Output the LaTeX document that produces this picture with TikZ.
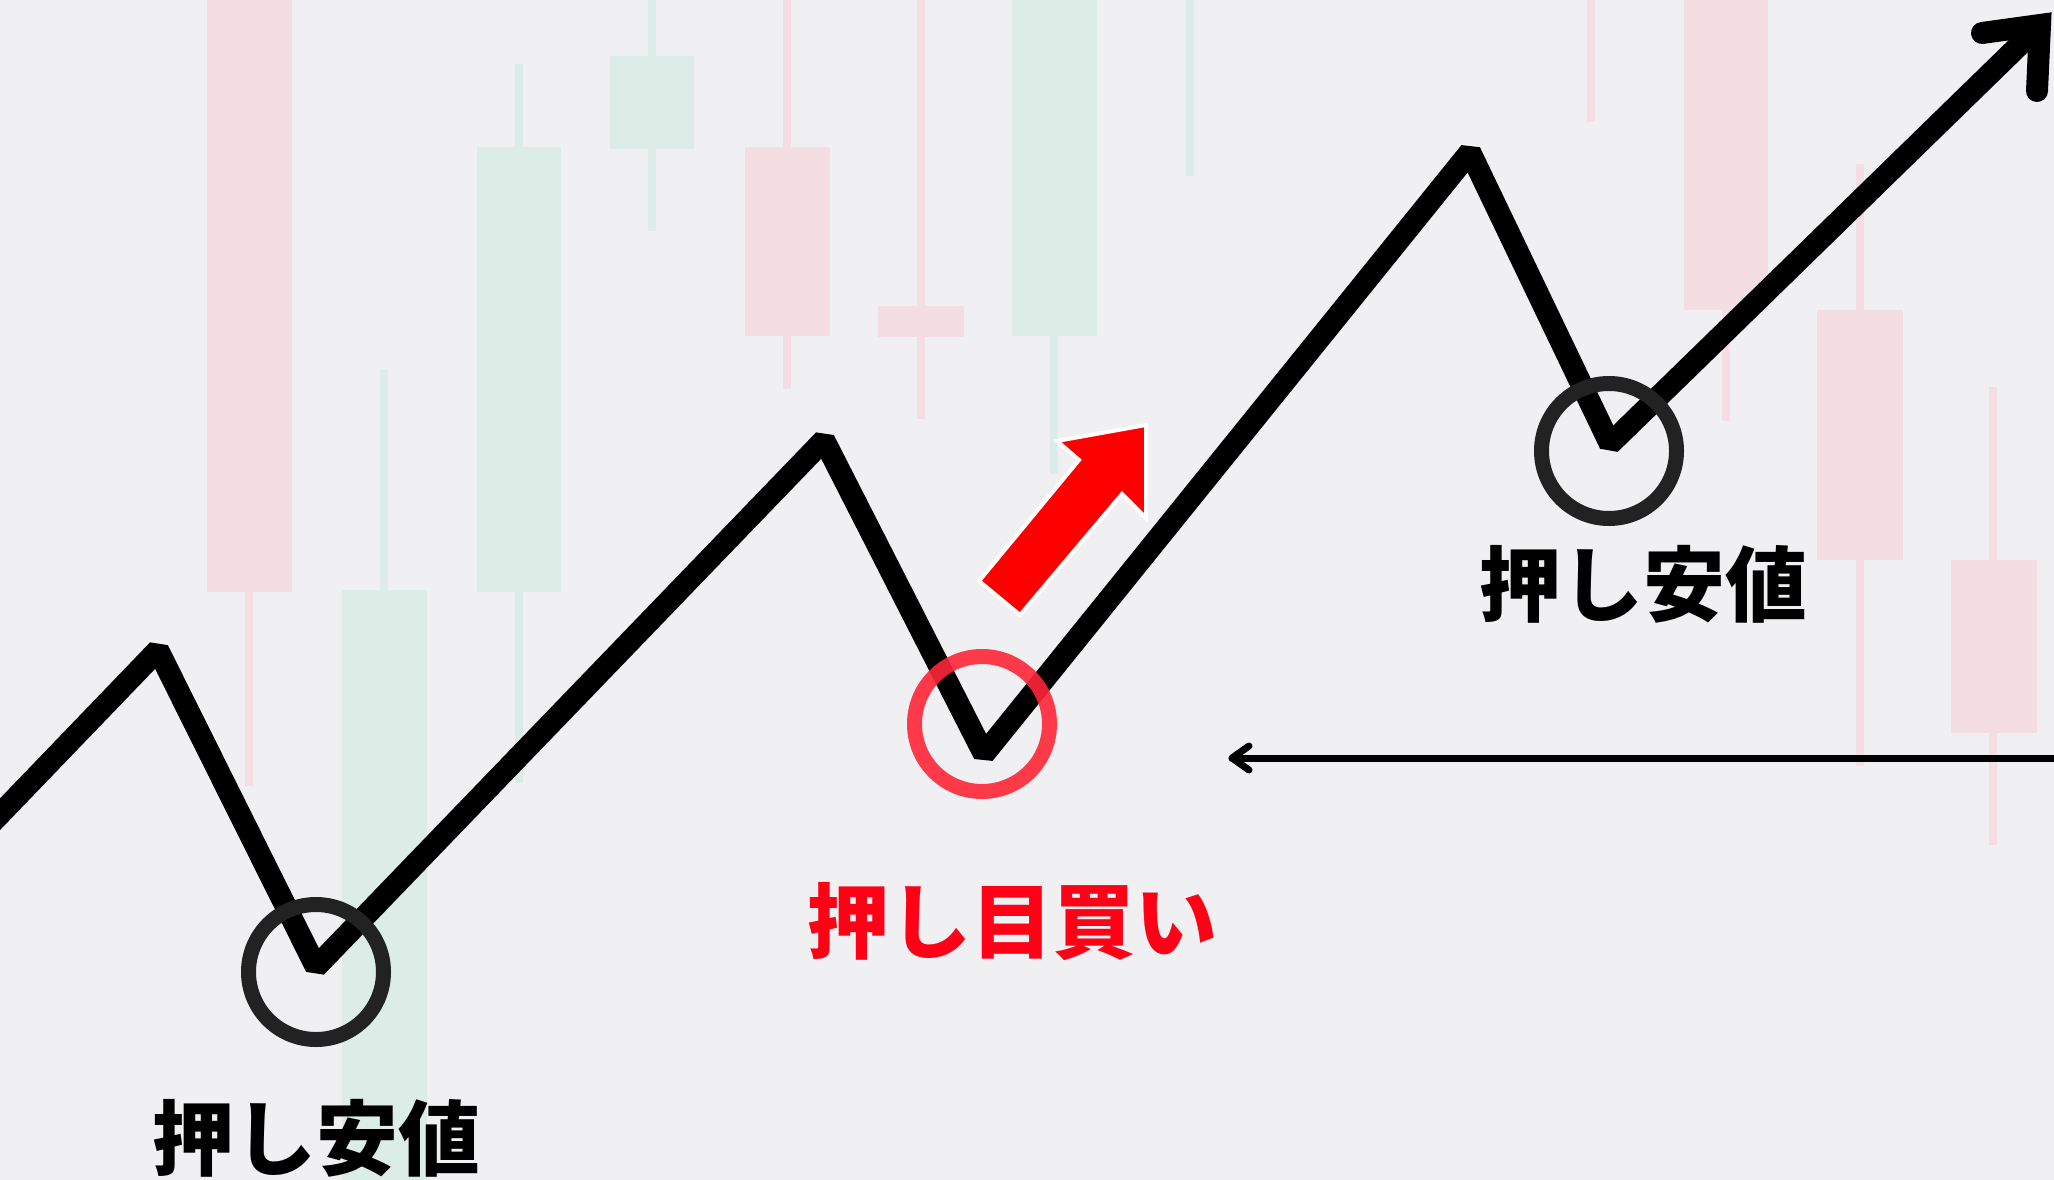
\documentclass[tikz,border=0pt]{standalone}
\usepackage{fontspec}
\newfontfamily\jp{Noto Sans CJK JP Black}
\definecolor{bg}{RGB}{240,240,242}
\definecolor{cred}{RGB}{244,222,227}
\definecolor{cgreen}{RGB}{220,236,230}
\definecolor{ring}{RGB}{34,34,34}
\definecolor{ringred}{RGB}{255,38,56}
\definecolor{txtred}{RGB}{255,0,22}
\tikzset{
  zig/.style={line width=22pt, black, line join=bevel},
  barb/.style={line width=22pt, black, line cap=round, line join=miter},
  thinarrow/.style={line width=7pt, black, line cap=round, line join=round},
  ringblack/.style={circle, draw=ring, line width=15pt, minimum size=135pt, inner sep=0pt},
  ringred/.style={circle, draw=ringred, draw opacity=0.9, line width=15pt, minimum size=135pt, inner sep=0pt},
  lbl/.style={font=\jp\fontsize{82}{82}\selectfont, inner sep=0pt},
  upred/.style={fill=red, draw=white, line width=4pt, line join=miter}
}
\begin{document}
\begin{tikzpicture}[x=1pt,y=-1pt]
\fill[bg] (0,0) rectangle (2054,1180);
\useasboundingbox (0,0) rectangle (2054,1180);
% faint candlesticks: red
\fill[cred] (207,0) rectangle (292,592);   \fill[cred] (245,592) rectangle (253,786);
\fill[cred] (745,147) rectangle (830,336); \fill[cred] (783,0) rectangle (791,389);
\fill[cred] (878,306) rectangle (964,337); \fill[cred] (917,0) rectangle (925,419);
\fill[cred] (1587,0) rectangle (1595,122);
\fill[cred] (1684,0) rectangle (1768,310); \fill[cred] (1722,310) rectangle (1730,421);
\fill[cred] (1817,310) rectangle (1903,560); \fill[cred] (1856,164) rectangle (1864,766);
\fill[cred] (1951,560) rectangle (2037,733); \fill[cred] (1989,387) rectangle (1997,845);
% faint candlesticks: green
\fill[cgreen] (342,590) rectangle (427,1180); \fill[cgreen] (380,370) rectangle (388,590);
\fill[cgreen] (477,147) rectangle (561,592);  \fill[cgreen] (515,64) rectangle (523,783);
\fill[cgreen] (610,56) rectangle (694,149);   \fill[cgreen] (648,0) rectangle (656,231);
\fill[cgreen] (1012,0) rectangle (1097,336);  \fill[cgreen] (1050,336) rectangle (1058,474);
\fill[cgreen] (1186,0) rectangle (1194,176);
% red up arrow
\filldraw[upred] (1146,425) -- (1057,441) -- (1079,460) -- (979,581) -- (1020,615) -- (1122,494) -- (1146,518) -- cycle;
% zigzag price line
\coordinate (p0) at (-20,835);
\coordinate (p1) at (158,650);
\coordinate (p2) at (316,967);
\coordinate (p3) at (824,440);
\coordinate (p4) at (984,754);
\coordinate (p5) at (1470,152);
\coordinate (p6) at (1610,444);
\coordinate (p7) at (2040,25);
\coordinate (h1) at (1982,33);
\coordinate (h2) at (2037,91);
\draw[zig] (p0) -- (p1) -- (p2) -- (p3) -- (p4) -- (p5) -- (p6) -- (p7);
\draw[barb] (h1) -- (p7) -- (h2);
% thin horizontal arrow
\coordinate (t0) at (2070,758);
\coordinate (t1) at (1232,758);
\coordinate (ta) at (1249,746);
\coordinate (tb) at (1249,770);
\draw[thinarrow] (t0) -- (t1);
\draw[thinarrow] (ta) -- (t1) -- (tb);
% rings
\node[ringblack] (r1) at (316,972) {};
\node[ringred] (r2) at (982,724) {};
\node[ringblack] (r3) at (1609,451) {};
% labels
\node[lbl] (l1) at (316,1138) {押し安値};
\node[lbl] (l2) at (1643,584) {押し安値};
\node[lbl, text=txtred] (l3) at (1012,922) {押し目買い};
\end{tikzpicture}
\end{document}
